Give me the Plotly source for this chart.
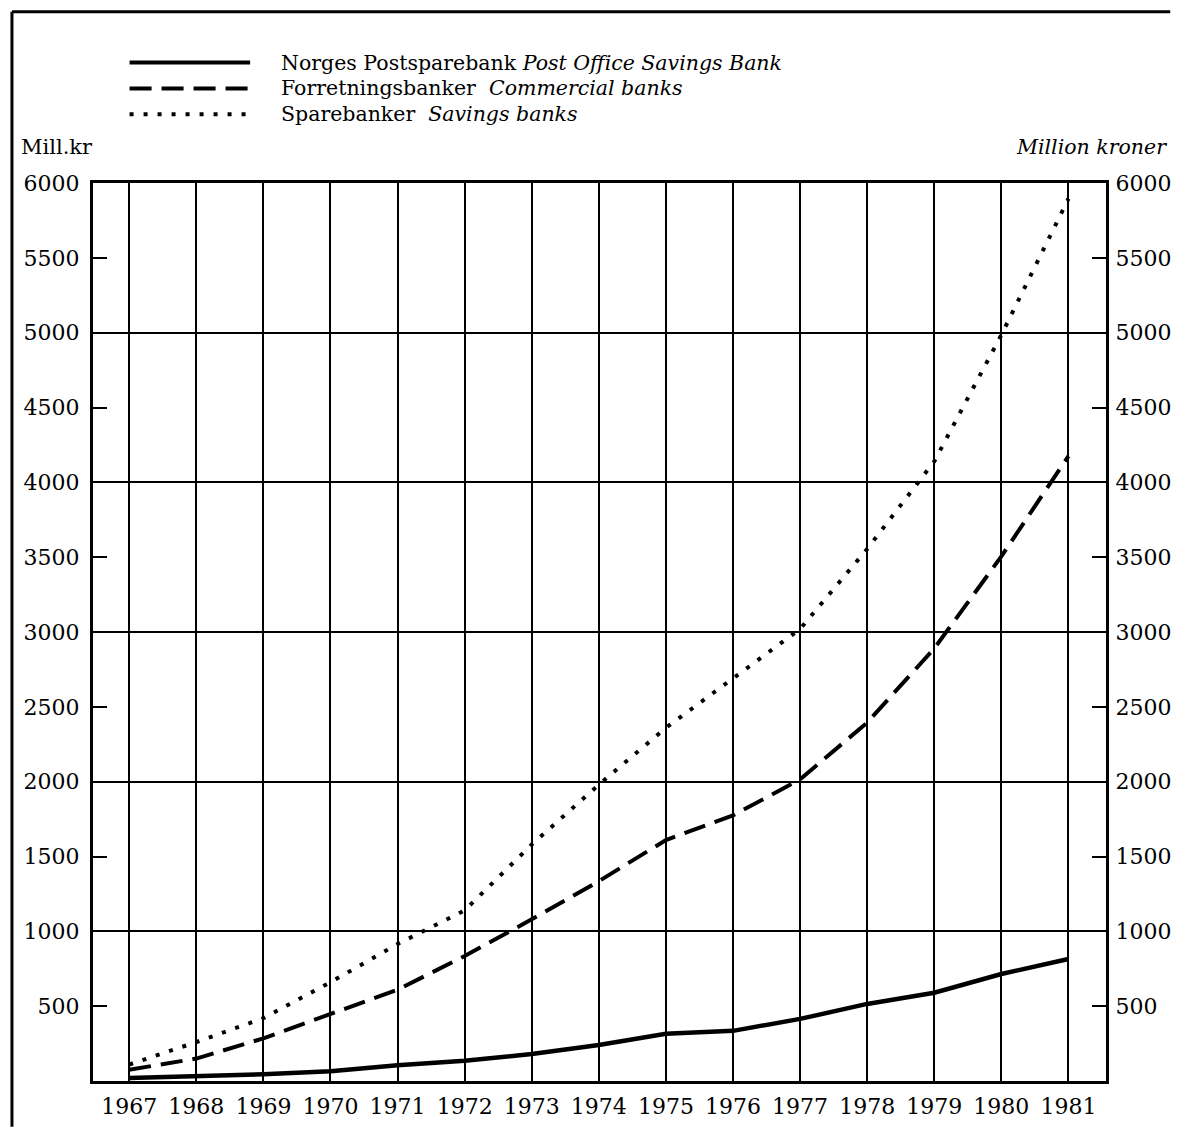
import plotly.graph_objects as go

years = list(range(1967, 1982))
postsparebank = [20, 30, 45, 65, 105, 135, 180, 240, 315, 335, 415, 515, 590, 715, 815]
forretningsbanker = [75, 150, 285, 445, 610, 835, 1080, 1335, 1610, 1775, 2015, 2395, 2890, 3505, 4175]
sparebanker = [110, 260, 420, 660, 915, 1140, 1580, 1980, 2360, 2690, 3020, 3555, 4140, 4985, 5895]

y_ticks = list(range(500, 6001, 500))
y_grid = list(range(1000, 6001, 1000))

legend_names = [
    "Norges Postsparebank <i>Post Office Savings Bank</i>",
    "Forretningsbanker  <i>Commercial banks</i>",
    "Sparebanker  <i>Savings banks</i>",
]

W, H = 1183, 1131
L, R, T, B = 93, 1118, 183, 1085
FONT = "DejaVu Serif"


def px(x):
    return (x - L) / (R - L)


def py(y):
    return (B - y) / (B - T)


fig = go.Figure()
fig.add_trace(go.Scatter(x=years, y=sparebanker, mode="lines",
                         line=dict(color="black", width=4, dash="4px,10px"),
                         showlegend=False, hoverinfo="skip"))
fig.add_trace(go.Scatter(x=years, y=forretningsbanker, mode="lines",
                         line=dict(color="black", width=4, dash="22px,10px"),
                         showlegend=False, hoverinfo="skip"))
fig.add_trace(go.Scatter(x=years, y=postsparebank, mode="lines",
                         line=dict(color="black", width=4.5),
                         showlegend=False, hoverinfo="skip"))
# invisible trace for right axis
fig.add_trace(go.Scatter(x=[years[0]], y=[0], yaxis="y2", mode="markers",
                         marker=dict(opacity=0), showlegend=False, hoverinfo="skip"))

axis_font = dict(family=FONT, size=22, color="black")
fig.update_layout(
    width=W, height=H,
    margin=dict(l=L, r=W - R, t=T, b=H - B),
    paper_bgcolor="white", plot_bgcolor="white",
    xaxis=dict(range=[1966.46, 1981.56], tickvals=years, showgrid=True,
               gridcolor="black", gridwidth=2, showline=True, linecolor="black",
               linewidth=3, mirror=True, ticks="", tickfont=axis_font,
               zeroline=False, fixedrange=True, ticklabelstandoff=4),
    yaxis=dict(range=[0, 6000], tickvals=y_ticks, ticks="inside", ticklen=14,
               tickwidth=2, tickcolor="black", showgrid=False,
               showline=True, linecolor="black", linewidth=3,
               tickfont=axis_font, zeroline=False, ticklabelstandoff=6,
               fixedrange=True,
               minor=dict(tickvals=y_grid, showgrid=True, gridcolor="black",
                          gridwidth=2, ticks="")),
    yaxis2=dict(range=[0, 6000], tickvals=y_ticks, ticks="inside", ticklen=14,
                tickwidth=2, tickcolor="black", overlaying="y", side="right",
                showgrid=False, showline=True, linecolor="black", linewidth=3,
                tickfont=axis_font, zeroline=False, ticklabelstandoff=2,
                fixedrange=True),
)

# legend drawn manually
leg_y = [62, 88, 114]
dashes = ["solid", "22px,10px", "4px,10px"]
for i, (name, dsh) in enumerate(zip(legend_names, dashes)):
    fig.add_shape(type="line", xref="paper", yref="paper",
                  x0=px(130), x1=px(252), y0=py(leg_y[i]), y1=py(leg_y[i]),
                  line=dict(color="black", width=4, dash=dsh))
    fig.add_annotation(xref="paper", yref="paper", x=px(281), y=py(leg_y[i]),
                       text=name, showarrow=False, xanchor="left", yanchor="middle",
                       font=dict(family=FONT, size=20.5, color="black"))

fig.add_annotation(xref="paper", yref="paper", x=px(18), y=py(147), text="Mill.kr",
                   showarrow=False, xanchor="left", yanchor="middle",
                   font=dict(family=FONT, size=21, color="black"))
fig.add_annotation(xref="paper", yref="paper", x=px(1182), y=py(147),
                   text="<i>Million kroner</i>", showarrow=False, xanchor="right",
                   yanchor="middle", font=dict(family=FONT, size=20.5, color="black"))

# page frame (left and top edges)
fig.add_shape(type="line", xref="paper", yref="paper", x0=px(11), x1=px(11),
              y0=py(11), y1=py(1131), line=dict(color="black", width=3))
fig.add_shape(type="line", xref="paper", yref="paper", x0=px(11), x1=px(1183),
              y0=py(11), y1=py(11), line=dict(color="black", width=3))

fig.write_html(
    "out.html",
    config={"displayModeBar": False},
    post_script="document.body.style.margin='0';document.body.style.overflow='hidden';",
)
